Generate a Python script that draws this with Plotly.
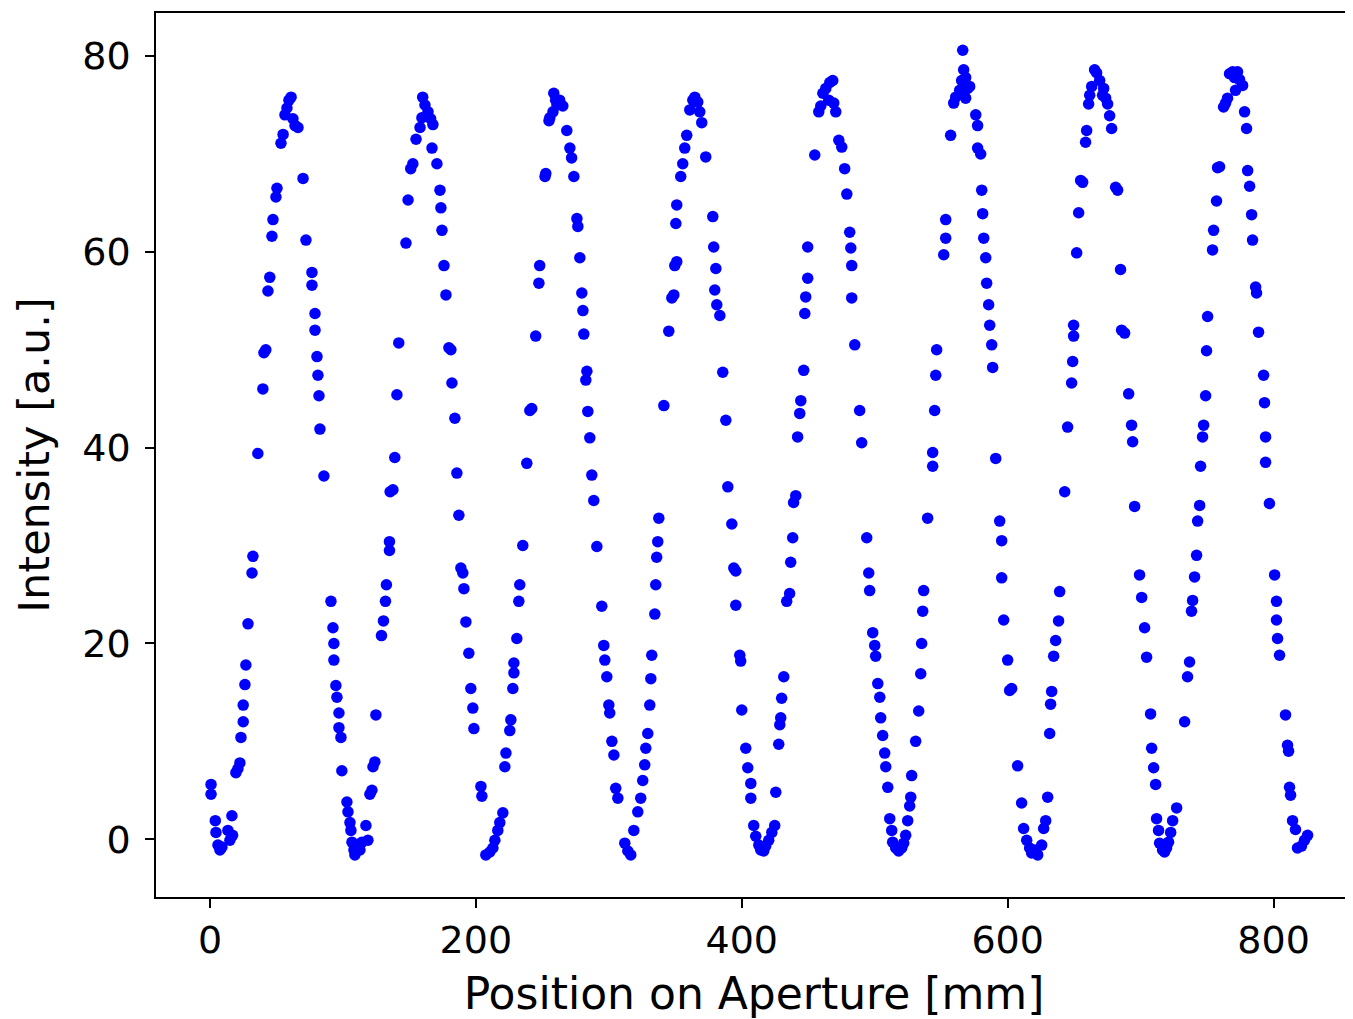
import plotly.graph_objects as go

# Position on aperture [mm] and intensity [a.u.], split by fringe cycle
x_c1 = [0.8, 0.8, 4, 4.5, 6, 7.5, 9, 13.5, 15, 17, 16.5, 19.5, 21, 22.5, 23.3, 25, 25, 26.3, 27, 28.6,
        31.6, 32.3, 36, 39.8, 40.6, 42, 43.6, 45, 46.6, 47.4, 49.6, 50.4, 53.4, 55, 56.4, 57.9, 59.4, 61,
        62.4, 64, 66.2, 70, 72.2, 76.7, 76.7, 79, 79, 80.5, 81.2, 82, 82.7, 85.7, 91, 92.5, 93.2, 93.2,
        94.7, 95.5, 97, 97, 98.5, 99.2, 103, 103.8, 105.3, 106, 106.8, 108.3, 109, 110.5, 112.8, 114.3,
        117.3, 118.8, 120.3, 121.8, 122.6, 124, 124.8]
y_c1 = [5.6, 4.6, 1.9, 0.7, -0.6, -1.1, -0.8, 0.9, -0.1, 0.4, 2.4, 6.8, 7.2, 7.8, 10.4, 12, 13.7, 15.8, 17.8, 22,
        27.2, 28.9, 39.4, 46, 49.7, 50, 56, 57.4, 61.6, 63.3, 65.6, 66.5, 71.1, 72, 74, 74.7, 75.5, 75.8,
        73.6, 72.9, 72.7, 67.5, 61.2, 57.9, 56.6, 53.7, 52, 49.3, 47.4, 45.3, 41.9, 37.1, 24.3, 21.6, 20, 18.3,
        15.7, 14.5, 12.9, 11.4, 10.4, 7, 3.8, 2.8, 1.7, 0.9, -0.3, -1.1, -1.6, -0.9, -1.1, -0.3,
        1.4, -0.1, 4.6, 5, 7.4, 7.9, 12.7]

x_c2 = [129, 130.5, 132, 132.7, 135, 135, 135.5, 137.6, 139, 140.6, 142, 147.4, 149, 151, 152.6, 155, 158,
        159.4, 160, 161.7, 164, 166, 167.7, 167, 170.7, 173, 173.7, 174.5, 176, 177.5, 179.7, 181.2, 182,
        184.2, 185.7, 187.2, 188.7, 190.2, 191, 192.5, 194.7, 196.2, 197.7, 198.5, 203.8, 204.5, 207.5,
        210.5, 212.8, 214.3, 216.5, 218, 220.3, 221.8, 222.6, 225.5, 226.3, 227.8, 228.6, 228.6, 230.8,
        232.3, 233, 235.3, 238.3, 240.6, 242]
y_c2 = [20.8, 22.3, 24.3, 26, 29.5, 30.4, 35.5, 35.7, 39, 45.4, 50.7, 60.9, 65.3, 68.5, 69, 71.5, 72.7,
        73.7, 75.8, 75, 74.3, 73.6, 73, 70.6, 69, 66.3, 64.5, 62.2, 58.6, 55.6, 50.2, 50, 46.6,
        43, 37.4, 33.1, 27.7, 27.2, 25.6, 22.2, 19, 15.4, 13.4, 11.3, 5.4, 4.4, -1.6,
        -1.3, -0.9, -0.1, 0.9, 1.7, 2.7, 7.4, 8.8, 11.1, 12.2, 15.4, 17, 18, 20.5,
        24.3, 26, 30, 38.4, 43.8, 44]

x_c3 = [245, 247.4, 248, 252, 252.6, 255, 255.6, 258, 258.6, 260, 261, 263, 265.4, 268.4, 270.7, 272, 273.7,
        276, 276.7, 278.2, 279.7, 280.5, 281.2, 283.5, 282.7, 284.2, 285.7, 287.2, 288.7, 291, 294.7,
        296.2, 297, 298.5, 300, 300.7, 302.3, 303.8, 305.2, 306.8, 312, 314.3, 316.5, 318.8, 321.8, 324,
        325.5, 327, 327.8, 329.3, 330.8, 331.6, 332.3, 334.6, 335.3, 336, 336.8, 337.6]
y_c3 = [51.4, 56.8, 58.6, 67.7, 68, 73.4, 73.7, 74.3, 76.2, 75.5, 75, 75.5, 74.9, 72.4, 70.6, 69.6, 67.7,
        63.4, 62.6, 59.4, 55.8, 54, 51.6, 47.8, 46.9, 43.7, 41, 37.2, 34.6, 29.9, 23.8,
        19.8, 18.3, 16.6, 13.7, 12.9, 10, 8.6, 5.2, 4.2, -0.4, -1.2, -1.6, 0.9, 2.8, 4.2,
        6, 7.6, 9.3, 10.8, 13.7, 16.4, 18.8, 23, 26, 28.8, 30.4, 32.8]

x_c4 = [341.4, 345.1, 347.4, 348.9, 349.6, 351.1, 350.4, 351.1, 354.1, 355.6, 357.1, 358.6, 360.9, 363.2,
        364.7, 366.9, 368.4, 369.9, 372.9, 378.2, 378.9, 380.5, 379.7, 381.2, 383.5, 385.7, 388, 389.5,
        392.5, 394, 395.5, 395.5, 398.5, 399.2, 400, 403, 404.5, 406.8, 406.8, 409, 410.5, 412.8, 414.3,
        416.5, 418, 420.3, 422.6, 424.8, 425.6, 427.8, 428.6, 429.3, 430, 431.6, 433.8, 436, 436.8,
        438.3, 439, 440.6]
y_c4 = [44.3, 51.9, 55.3, 55.6, 58.6, 59, 62.9, 64.8, 67.7, 69, 70.6, 71.9, 74.5, 75.5,
        75.8, 75.3, 74.3, 73.2, 69.7, 63.6, 60.5, 58.3, 56.1, 54.6, 53.5, 47.7, 42.8, 36,
        32.2, 27.7, 27.4, 23.9, 18.8, 18.2, 13.2, 9.3, 7.3, 5.7, 4.2, 1.4, 0.3, -0.6, -1.1,
        -1.2, -0.7, -0.1, 0.7, 1.4, 4.8, 9.7, 11.7, 12.4, 14.4, 16.6, 24.3, 25.1, 28.3,
        30.8, 34.4, 35.1]

x_c5 = [442, 443.6, 444.4, 446.6, 447.4, 448.1, 449.6, 449.6, 454.9, 457.9, 459.4, 461, 463.2, 466.2,
        468.4, 465.4, 469.2, 470.7, 473, 475.2, 477.4, 479, 481.2, 482, 482.7, 482.7, 485, 488.7, 490.2,
        494, 495.5, 496.2, 498.5, 500, 500.7, 502.3, 503.8, 504.5, 506, 507.5, 508.3, 509.8, 511.3,
        512.8, 513.5, 515.8, 518, 520.3, 521.8, 523.3, 524.8, 526.3, 527.1, 527.8, 530.8, 533.1, 534.6,
        535.3, 536.1, 536.8, 539.8]
y_c5 = [41.1, 43.5, 44.8, 47.9, 53.7, 55.4, 57.3, 60.5, 69.9, 74.3, 74.9, 76.2, 76.7, 77.3,
        77.5, 75.5, 75.2, 74.3, 71.4, 70.7, 68.5, 65.9, 62, 60.4, 58.6, 55.3, 50.5, 43.8, 40.5,
        30.8, 27.2, 25.4, 21.1, 19.8, 18.7, 15.9, 14.5, 12.4, 10.6, 8.8, 7.4, 5.3, 2.1,
        0.9, -0.3, -0.9, -1.2, -0.9, -0.4, 0.4, 1.9, 3.4, 4.3, 6.5, 10, 13.1, 16.9,
        20, 23.3, 25.4, 32.8]

x_c6 = [543.6, 543.6, 545.1, 545.9, 546.6, 551.9, 553.4, 553.4, 557.1, 559.4, 560.9, 563.9, 565.4, 566.2,
        566.9, 568.4, 569.9, 571.4, 568.4, 576, 577.4, 577.4, 579.7, 580.5, 581.2, 582, 583.5, 584.2,
        585.7, 586.5, 588, 588.7, 591, 594, 595.5, 595.5, 597, 600, 601.5, 603, 607.5, 610.5, 612,
        614.3, 616.5, 618, 620.3, 622.6, 625.6, 627.1, 628.6, 630.1, 631.6, 632.3, 633.1, 634.6, 636.1,
        638.3, 639.1]
y_c6 = [38.1, 39.5, 43.8, 47.4, 50, 59.7, 61.4, 63.3, 71.9, 75.2, 75.8, 76.5, 77.5, 80.6,
        78.6, 77.8, 76.7, 76.9, 75.7, 74, 72.9, 70.6, 70, 66.3, 63.9, 61.4, 59.4, 56.8,
        54.6, 52.5, 50.5, 48.2, 38.9, 32.5, 30.5, 26.7, 22.4, 18.3, 15.2, 15.4, 7.5, 3.7, 1.1,
        -0.1, -0.9, -1.4, -1.1, -1.6, -0.6, 1.1, 1.9, 4.3, 10.8, 13.8, 15.1, 18.7, 20.3,
        22.3, 25.3]

x_c7 = [642.9, 645.1, 648.1, 648.9, 649.6, 649.6, 651.9, 653.4, 654.9, 656.4, 658.6, 659.4, 660.9, 661.7,
        663.2, 665.4, 666.9, 669.2, 671.4, 672.2, 673.7, 675.2, 676.7, 678.2, 681.2, 682.7, 684.9, 685.7,
        688, 691, 693.2, 694, 695.5, 699.2, 700.8, 703, 704.5, 707.5, 708.3, 709.8, 711.3, 712, 713.5,
        714.3, 716.5, 718, 719.5, 721, 722.6, 724.1, 727.1]
y_c7 = [35.5, 42.1, 46.6, 48.8, 51.4, 52.5, 59.9, 64, 67.3, 67.1, 71.2, 72.4, 75.1, 76,
        76.9, 78.6, 78.3, 77.5, 76, 76.7, 75.7, 75.1, 73.9, 72.6, 66.6, 66.3, 58.2, 52,
        51.7, 45.5, 42.3, 40.6, 34, 27, 24.7, 21.6, 18.6, 12.8, 9.3, 7.3, 5.6, 2.1, 0.9,
        -0.4, -1.1, -1.3, -0.9, -0.3, 0.7, 1.9, 3.2]

x_c8 = [733.1, 735.3, 736.8, 738.3, 739.1, 740.6, 742.1, 742.9, 744.4, 745.1, 746.6, 747.4, 748.9, 749.6,
        750.4, 754.1, 754.9, 757.1, 757.9, 759.4, 762.4, 763.9, 765.4, 766.9, 769.2, 770.7, 771.4, 772.9,
        774.4, 776.7, 778.2, 779.7, 780.5, 782, 783.5, 784.2, 786.5, 787.2, 788.7, 792.5, 793.2, 794, 794,
        796.9, 800.8, 802.2, 802.2, 803, 804.5, 809, 810.5, 811.3, 812, 812.8, 814.3, 816.5, 818, 821,
        823.3, 825.6]
y_c8 = [12, 16.6, 18.1, 23.3, 24.4, 26.8, 29, 32.5, 34.1, 38.1, 41.1, 42.3, 45.3, 49.9,
        53.4, 60.2, 62.2, 65.2, 68.6, 68.7, 74.8, 75.2, 75.7, 78.2, 78.4, 77.8, 76.5, 78.4,
        77.6, 77, 74.3, 72.6, 68.3, 66.7, 63.8, 61.2, 56.4, 55.8, 51.8, 47.4, 44.6, 41.1, 38.5,
        34.3, 27, 24.3, 22.4, 20.5, 18.8, 12.7, 9.6, 9, 5.3, 4.5, 1.9, 1, -0.9, -0.7,
        -0.1, 0.4]

x_ticks = [0, 200, 400, 600, 800]
y_ticks = [0, 20, 40, 60, 80]

positions = x_c1 + x_c2 + x_c3 + x_c4 + x_c5 + x_c6 + x_c7 + x_c8
intensities = y_c1 + y_c2 + y_c3 + y_c4 + y_c5 + y_c6 + y_c7 + y_c8

fig = go.Figure()
fig.add_trace(go.Scatter(
    x=positions, y=intensities, mode="markers",
    marker=dict(color="#0000ff", size=11.5, line=dict(width=0)),
    showlegend=False,
))

axis_common = dict(
    showline=True, mirror=True, linecolor="black", linewidth=1.6,
    ticks="outside", ticklen=9, tickwidth=1.6, tickcolor="black",
    showgrid=False, zeroline=False,
    tickfont=dict(size=38, color="black", family="DejaVu Sans"),
)

# the page body adds an 8px offset, so the figure is sized to fit the window
fig.update_layout(
    width=1345, height=1011,
    margin=dict(l=148, r=1, t=5, b=122),
    plot_bgcolor="white", paper_bgcolor="white",
    font=dict(family="DejaVu Sans", color="black"),
    xaxis=dict(range=[-40.6, 859], tickvals=x_ticks, ticktext=[str(v) for v in x_ticks],
               title=dict(text="Position on Aperture [mm]", font=dict(size=44), standoff=18),
               automargin=False, **axis_common),
    yaxis=dict(range=[-5.9, 84.4], tickvals=y_ticks, ticktext=[str(v) for v in y_ticks],
               ticklabelstandoff=7,
               title=dict(text="Intensity [a.u.]", font=dict(size=43), standoff=19),
               automargin=False, **axis_common),
)

fig.write_html("out.html")
